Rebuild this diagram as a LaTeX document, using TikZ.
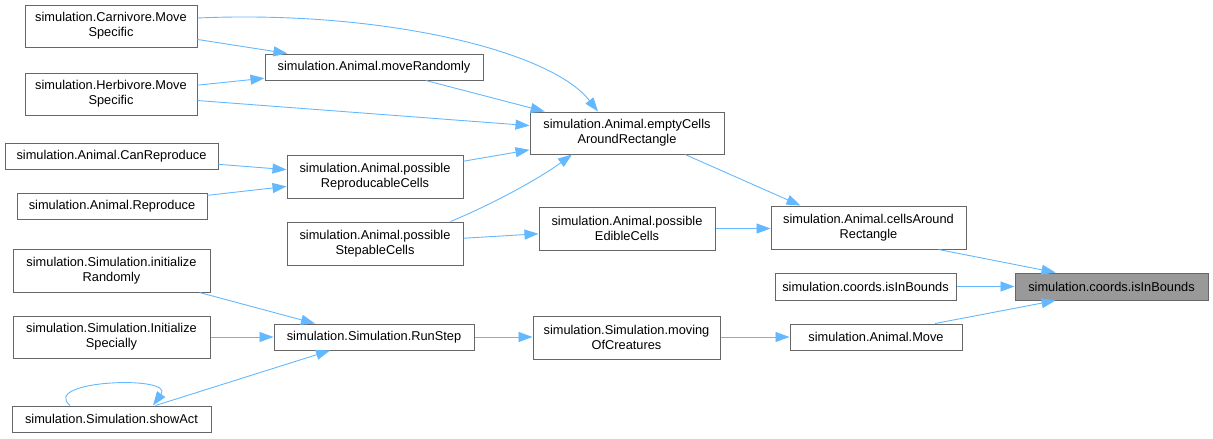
\documentclass[tikz,border=0pt]{standalone}
\usepackage{fontspec}
\setmainfont{Liberation Sans}
\usetikzlibrary{arrows.meta,calc}
\definecolor{edgeblue}{HTML}{63B8FF}
\definecolor{boxline}{HTML}{666666}
\definecolor{targetfill}{HTML}{999999}
\tikzset{
  box/.style={draw=boxline, line width=1pt, fill=white, inner sep=0pt, align=center,
    font=\fontsize{12.8}{15}\selectfont, text=black},
  targetbox/.style={box, fill=targetfill},
  conn/.style={draw=edgeblue, line width=0.9pt, -{Triangle[length=14pt,width=10pt]}},
}
\begin{document}
\begin{tikzpicture}[x=1pt,y=1pt]
\useasboundingbox (0,0) rectangle (1213,-439);
% nodes
\node[box, minimum width=172pt, minimum height=42pt] (carn) at (111,-26) {simulation.Carnivore.Move\\Specific};
\node[box, minimum width=172pt, minimum height=42pt] (herb) at (111,-94) {simulation.Herbivore.Move\\Specific};
\node[box, minimum width=218pt, minimum height=26pt] (moverand) at (374,-67) {simulation.Animal.moveRandomly};
\node[box, minimum width=213pt, minimum height=26pt] (canrep) at (111.5,-156) {simulation.Animal.CanReproduce};
\node[box, minimum width=190pt, minimum height=26pt] (repro) at (112,-206) {simulation.Animal.Reproduce};
\node[box, minimum width=176pt, minimum height=43pt] (posrep) at (375,-176.5) {simulation.Animal.possible\\ReproducableCells};
\node[box, minimum width=194pt, minimum height=42pt] (empty) at (627,-133) {simulation.Animal.emptyCells\\AroundRectangle};
\node[box, minimum width=176pt, minimum height=43pt] (posstep) at (375,-243.5) {simulation.Animal.possible\\StepableCells};
\node[box, minimum width=176pt, minimum height=43pt] (posedible) at (627,-228.5) {simulation.Animal.possible\\EdibleCells};
\node[box, minimum width=195pt, minimum height=43pt] (cells) at (868.5,-227.5) {simulation.Animal.cellsAround\\Rectangle};
\node[box, minimum width=181pt, minimum height=27pt] (coordsL) at (865.5,-286.5) {simulation.coords.isInBounds};
\node[targetbox, minimum width=193pt, minimum height=27pt] (target) at (1111.5,-286.5) {simulation.coords.isInBounds};
\node[box, minimum width=197pt, minimum height=43pt] (initrand) at (111.5,-270.5) {simulation.Simulation.initialize\\Randomly};
\node[box, minimum width=197pt, minimum height=42pt] (initspec) at (111.5,-337) {simulation.Simulation.Initialize\\Specially};
\node[box, minimum width=199pt, minimum height=26pt] (showact) at (111.5,-419) {simulation.Simulation.showAct};
\node[box, minimum width=200pt, minimum height=26pt] (runstep) at (374,-337) {simulation.Simulation.RunStep};
\node[box, minimum width=187pt, minimum height=43pt] (moving) at (626.5,-337.5) {simulation.Simulation.moving\\OfCreatures};
\node[box, minimum width=172pt, minimum height=26pt] (move) at (876,-337) {simulation.Animal.Move};
% connectors
\draw[conn] (carn) -- (moverand);
\draw[conn] (herb) -- (moverand);
\draw[conn] ($(carn.east)+(0,8)$) .. controls (380,-10) and (550,-50) .. ($(empty.north)+(-29,0)$);
\draw[conn] (herb) -- (empty);
\draw[conn] (moverand) -- (empty);
\draw[conn] (posrep) -- (empty);
\draw[conn] ($(posstep.north east)+(-13,0)$) .. controls (495,-203) and (540,-178) .. ($(empty.south)+(-55,0)$);
\draw[conn] (canrep) -- (posrep);
\draw[conn] (repro) -- (posrep);
\draw[conn] (posstep) -- (posedible);
\draw[conn] (posedible.east) -- (posedible.east -| cells.west);
\draw[conn] ($(empty.south)+(58,0)$) -- ($(cells.north)+(-68,0)$);
\draw[conn] ($(cells.south)+(70,0)$) -- ($(target.north)+(-56,0)$);
\draw[conn] (coordsL) -- (target);
\draw[conn] ($(move.north)+(59,0)$) -- ($(target.south)+(-56,0)$);
\draw[conn] (moving.east |- move.west) -- (move.west);
\draw[conn] (runstep.east) -- (runstep.east -| moving.west);
\draw[conn] ($(initrand.south)+(88,0)$) -- ($(runstep.north)+(-59,0)$);
\draw[conn] (initspec) -- (runstep);
\draw[conn] ($(showact.north)+(44,0)$) -- ($(runstep.south)+(-44,0)$);
\draw[conn] ($(showact.north)+(-41.5,0)$) .. controls (40,-380) and (175,-375) .. ($(showact.north)+(41.5,0)$);
\end{tikzpicture}
\end{document}
